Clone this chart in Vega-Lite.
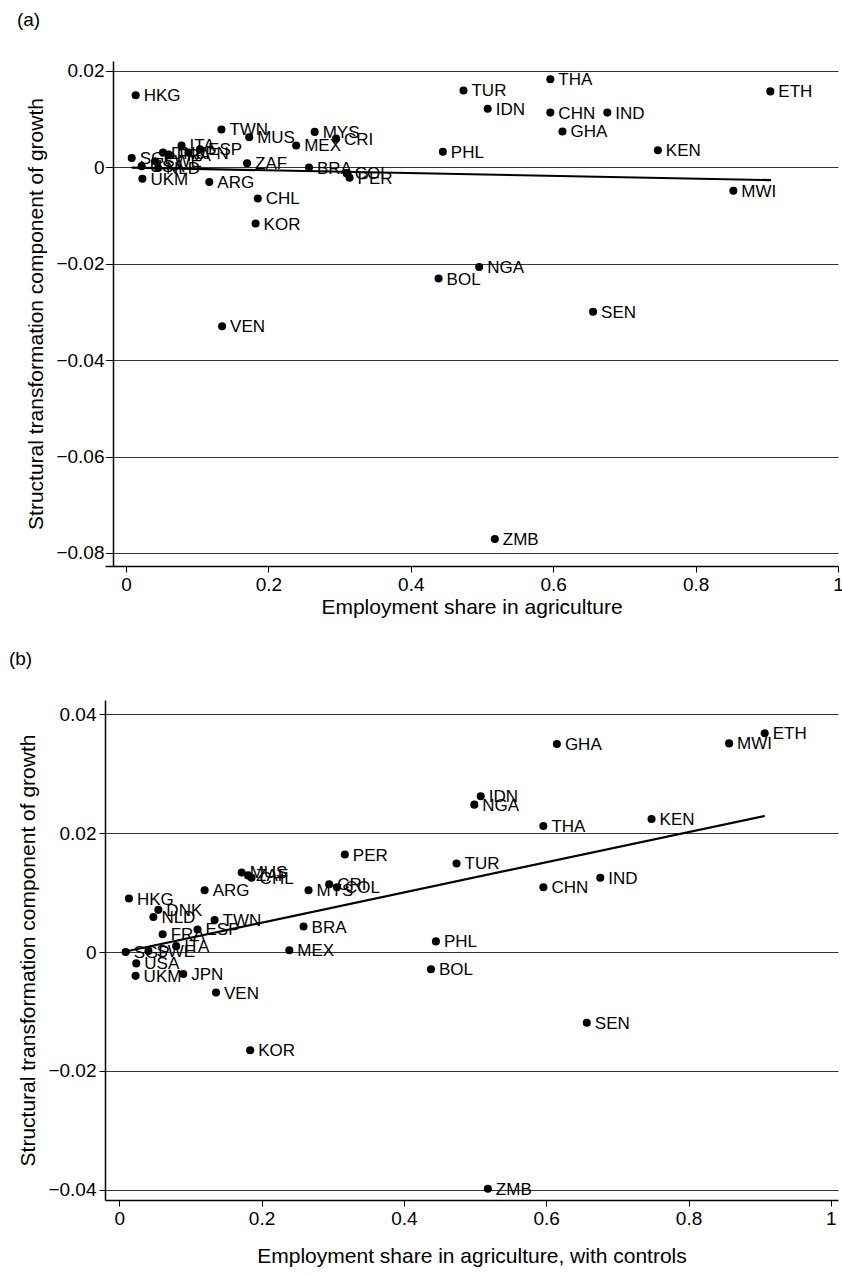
{
  "$schema": "https://vega.github.io/schema/vega-lite/v6.json",
  "background": "white",
  "padding": {"left": 8, "top": 11, "right": 0, "bottom": 3},
  "config": {
    "font": "Liberation Sans",
    "view": {"stroke": null},
    "axis": {
      "labelFont": "Liberation Sans", "titleFont": "Liberation Sans",
      "labelFontSize": 19, "titleFontSize": 21, "titleFontWeight": "normal",
      "labelColor": "black", "titleColor": "black",
      "domainColor": "black", "tickColor": "black", "domainWidth": 1.5,
      "gridColor": "#333", "gridWidth": 1, "tickSize": 6, "labelPadding": 3
    },
    "title": {"font": "Liberation Sans", "fontSize": 19, "fontWeight": "normal", "anchor": "start", "color": "black"}
  },
  "datasets": {
    "a": [
      {"c": "HKG", "x": 0.0136, "y": 0.0149},
      {"c": "TUR", "x": 0.474, "y": 0.0159},
      {"c": "THA", "x": 0.596, "y": 0.0182},
      {"c": "IDN", "x": 0.508, "y": 0.0121},
      {"c": "CHN", "x": 0.596, "y": 0.0113},
      {"c": "IND", "x": 0.676, "y": 0.0113},
      {"c": "GHA", "x": 0.613, "y": 0.0074},
      {"c": "ETH", "x": 0.905, "y": 0.0157},
      {"c": "PHL", "x": 0.445, "y": 0.0032},
      {"c": "KEN", "x": 0.747, "y": 0.0035},
      {"c": "MWI", "x": 0.853, "y": -0.0049},
      {"c": "NGA", "x": 0.496, "y": -0.0207},
      {"c": "BOL", "x": 0.439, "y": -0.0231},
      {"c": "SEN", "x": 0.656, "y": -0.0300},
      {"c": "ZMB", "x": 0.518, "y": -0.0771},
      {"c": "TWN", "x": 0.134, "y": 0.0078},
      {"c": "MUS", "x": 0.173, "y": 0.0062},
      {"c": "MYS", "x": 0.265, "y": 0.0073},
      {"c": "CRI", "x": 0.295, "y": 0.0059},
      {"c": "MEX", "x": 0.239, "y": 0.0045},
      {"c": "ZAF", "x": 0.170, "y": 0.0008},
      {"c": "BRA", "x": 0.257, "y": -0.0001},
      {"c": "COL", "x": 0.310, "y": -0.0013},
      {"c": "PER", "x": 0.314, "y": -0.0022},
      {"c": "ARG", "x": 0.117, "y": -0.0031},
      {"c": "CHL", "x": 0.185, "y": -0.0065},
      {"c": "KOR", "x": 0.182, "y": -0.0117},
      {"c": "VEN", "x": 0.135, "y": -0.0330},
      {"c": "UKM", "x": 0.023, "y": -0.0024},
      {"c": "SGP", "x": 0.008, "y": 0.0019},
      {"c": "USA", "x": 0.022, "y": 0.0002},
      {"c": "SWE", "x": 0.041, "y": 0.0012},
      {"c": "NLD", "x": 0.045, "y": -0.0002},
      {"c": "DNK", "x": 0.052, "y": 0.0030},
      {"c": "FRA", "x": 0.060, "y": 0.0026},
      {"c": "ITA", "x": 0.078, "y": 0.0045},
      {"c": "JPN", "x": 0.088, "y": 0.0030},
      {"c": "ESP", "x": 0.104, "y": 0.0037}
    ],
    "b": [
      {"c": "PER", "x": 0.317, "y": 0.0164},
      {"c": "MUS", "x": 0.172, "y": 0.0134},
      {"c": "ZAF", "x": 0.181, "y": 0.0129},
      {"c": "CHL", "x": 0.186, "y": 0.0125},
      {"c": "ARG", "x": 0.120, "y": 0.0104},
      {"c": "MYS", "x": 0.266, "y": 0.0104},
      {"c": "CRI", "x": 0.295, "y": 0.0114},
      {"c": "COL", "x": 0.306, "y": 0.0109},
      {"c": "HKG", "x": 0.0136, "y": 0.0090},
      {"c": "DNK", "x": 0.055, "y": 0.0071},
      {"c": "NLD", "x": 0.048, "y": 0.0059},
      {"c": "TWN", "x": 0.134, "y": 0.0054},
      {"c": "ESP", "x": 0.110, "y": 0.0038},
      {"c": "FRA", "x": 0.061, "y": 0.0030},
      {"c": "ITA", "x": 0.080, "y": 0.0010},
      {"c": "BRA", "x": 0.259, "y": 0.0043},
      {"c": "MEX", "x": 0.239, "y": 0.0003},
      {"c": "SGP", "x": 0.009, "y": 0.0000},
      {"c": "SWE", "x": 0.041, "y": 0.0002},
      {"c": "USA", "x": 0.024, "y": -0.0019},
      {"c": "UKM", "x": 0.023, "y": -0.0040},
      {"c": "JPN", "x": 0.090, "y": -0.0037},
      {"c": "VEN", "x": 0.136, "y": -0.0068},
      {"c": "KOR", "x": 0.184, "y": -0.0165},
      {"c": "GHA", "x": 0.615, "y": 0.0350},
      {"c": "MWI", "x": 0.857, "y": 0.0351},
      {"c": "ETH", "x": 0.907, "y": 0.0368},
      {"c": "IDN", "x": 0.508, "y": 0.0262},
      {"c": "NGA", "x": 0.499, "y": 0.0248},
      {"c": "THA", "x": 0.596, "y": 0.0212},
      {"c": "KEN", "x": 0.748, "y": 0.0224},
      {"c": "TUR", "x": 0.474, "y": 0.0149},
      {"c": "CHN", "x": 0.596, "y": 0.0109},
      {"c": "IND", "x": 0.676, "y": 0.0125},
      {"c": "PHL", "x": 0.445, "y": 0.0018},
      {"c": "BOL", "x": 0.438, "y": -0.0029},
      {"c": "SEN", "x": 0.657, "y": -0.0119},
      {"c": "ZMB", "x": 0.518, "y": -0.0398}
    ],
    "fitA": [
      {"x": 0.008, "y": -0.0001},
      {"x": 0.906, "y": -0.0027}
    ],
    "fitB": [
      {"x": 0.009, "y": 0.0001},
      {"x": 0.907, "y": 0.0229}
    ]
  },
  "columns": 1,
  "spacing": 33,
  "concat": [
    {
      "title": {"text": "(a)", "offset": 31, "dx": -9},
      "width": 733,
      "height": 505,
      "encoding": {
        "x": {"field": "x", "type": "quantitative",
          "scale": {"domain": [-0.0295, 1.0], "nice": false, "zero": false},
          "axis": {"title": "Employment share in agriculture", "values": [0, 0.2, 0.4, 0.6, 0.8, 1], "format": "~g", "grid": false, "labelFlush": false, "titlePadding": 2}},
        "y": {"field": "y", "type": "quantitative",
          "scale": {"domain": [-0.0827, 0.022], "nice": false, "zero": false},
          "axis": {"title": "Structural transformation component of growth", "values": [-0.08, -0.06, -0.04, -0.02, 0, 0.02], "format": "~g", "grid": true, "titlePadding": 9, "offset": -8}}
      },
      "layer": [
        {"data": {"values": [{}]}, "mark": {"type": "rule", "color": "black", "strokeWidth": 1.2}, "encoding": {"x": null, "y": {"datum": 0.022}}},
        {"data": {"name": "fitA"}, "mark": {"type": "line", "color": "black", "strokeWidth": 2.2}},
        {"data": {"name": "a"}, "mark": {"type": "point", "filled": true, "color": "black", "size": 65, "opacity": 1}},
        {"data": {"name": "a"}, "mark": {"type": "text", "align": "left", "baseline": "middle", "dx": 8, "dy": 1, "fontSize": 17, "color": "black", "font": "Liberation Sans"}, "encoding": {"text": {"field": "c"}}}
      ]
    },
    {
      "title": {"text": "(b)", "offset": 31, "dx": -9},
      "width": 733,
      "height": 500,
      "encoding": {
        "x": {"field": "x", "type": "quantitative",
          "scale": {"domain": [-0.02, 1.01], "nice": false, "zero": false},
          "axis": {"title": "Employment share in agriculture, with controls", "values": [0, 0.2, 0.4, 0.6, 0.8, 1], "format": "~g", "grid": false, "labelFlush": false, "titlePadding": 17}},
        "y": {"field": "y", "type": "quantitative",
          "scale": {"domain": [-0.0417, 0.0424], "nice": false, "zero": false},
          "axis": {"title": "Structural transformation component of growth", "values": [-0.04, -0.02, 0, 0.02, 0.04], "format": "~g", "grid": true, "titlePadding": 9}}
      },
      "layer": [
        {"data": {"values": [{}]}, "mark": {"type": "rule", "color": "black", "strokeWidth": 1.2}, "encoding": {"x": null, "y": {"datum": 0.0424}}},
        {"data": {"name": "fitB"}, "mark": {"type": "line", "color": "black", "strokeWidth": 2.2}},
        {"data": {"name": "b"}, "mark": {"type": "point", "filled": true, "color": "black", "size": 65, "opacity": 1}},
        {"data": {"name": "b"}, "mark": {"type": "text", "align": "left", "baseline": "middle", "dx": 8, "dy": 1, "fontSize": 17, "color": "black", "font": "Liberation Sans"}, "encoding": {"text": {"field": "c"}}}
      ]
    }
  ]
}
